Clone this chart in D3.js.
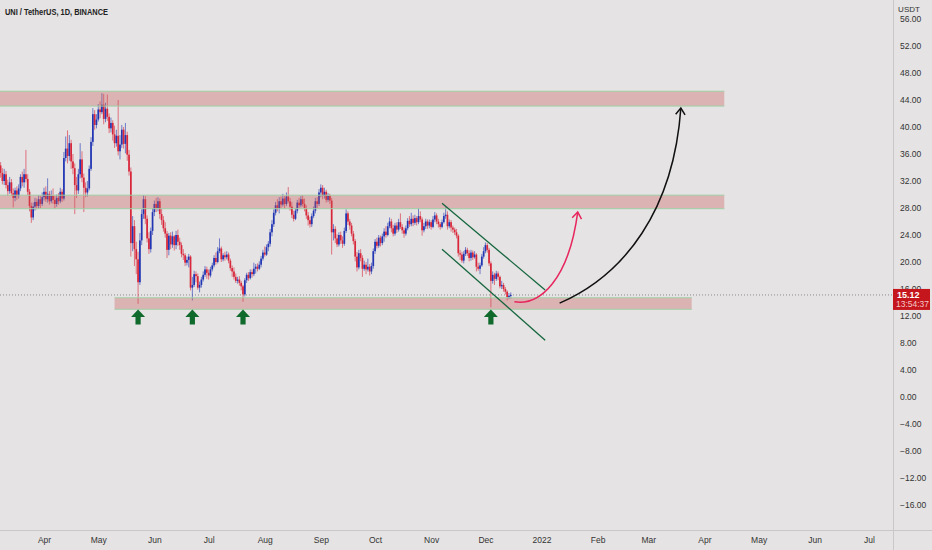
<!DOCTYPE html>
<html>
<head>
<meta charset="utf-8">
<script src="https://cdn.jsdelivr.net/npm/d3@7"></script>
<style>
  html, body { margin: 0; padding: 0; background: #e5e3e3; }
  svg { display: block; font-family: "Liberation Sans", Arial, sans-serif; }
</style>
</head>
<body>
<div id="chart"></div>
<script>
// UNI / USDT daily, 2021-03-07 .. 2021-12-15, one row per day: [open, high, low, close]
const firstDay = '2021-03-07';
const candles = [
  // March (from the 7th)
  [33.0,35.0,32.6,34.3],[34.3,34.8,32.5,33.2],[33.2,33.9,31.5,32.0],[32.0,33.8,31.4,33.0],[33.0,33.5,30.9,31.4],
  [31.4,32.2,29.8,30.5],[30.5,32.6,30.1,31.8],[31.8,32.3,29.8,30.2],[30.2,30.9,28.1,29.5],[29.5,31.0,29.0,30.6],
  [30.6,31.2,29.2,29.8],[29.8,31.5,29.4,30.9],[30.9,33.0,30.5,32.6],[32.6,33.4,31.2,31.8],[31.8,33.8,31.0,33.0],
  [33.0,36.6,31.8,32.3],[32.3,33.0,29.9,30.4],[30.4,30.8,27.5,28.3],[28.3,28.8,25.8,26.6],[26.6,28.8,26.2,28.2],
  [28.2,29.5,27.6,28.9],[28.9,29.4,27.8,28.3],[28.3,29.9,27.9,29.3],[29.3,29.8,28.0,28.6],[28.6,30.3,28.3,29.6],
  // April
  [29.6,31.0,29.1,30.4],[30.4,31.2,28.9,29.3],[29.3,32.4,28.8,30.1],[30.1,30.5,28.5,29.0],[29.0,30.6,28.7,29.8],
  [29.8,30.9,28.6,29.2],[29.2,29.8,27.9,28.6],[28.6,30.0,28.2,29.5],[29.5,30.2,28.5,29.0],[29.0,31.0,28.7,30.4],
  [30.4,30.8,28.9,29.4],[29.4,36.3,29.1,35.4],[35.4,38.6,34.9,36.8],[36.8,39.5,34.6,35.7],[35.7,38.8,35.0,37.6],
  [37.6,38.1,33.8,34.9],[34.9,36.0,33.0,33.9],[33.9,34.6,27.1,31.4],[31.4,32.6,29.5,30.6],[30.6,33.8,30.1,33.0],
  [33.0,37.6,32.4,35.2],[35.2,36.4,31.8,32.5],[32.5,33.1,27.4,31.0],[31.0,31.8,29.6,30.3],[30.3,32.0,29.7,30.9],
  [30.9,34.3,30.6,33.8],[33.8,38.5,33.5,37.8],[37.8,42.8,37.2,41.9],[41.9,42.5,39.6,40.3],[40.3,41.9,39.8,41.1],
  // May
  [41.1,43.4,40.8,42.6],[42.6,43.8,41.3,42.2],[42.2,45.0,41.9,43.3],[43.3,44.9,40.4,41.2],[41.2,43.6,40.7,42.7],
  [42.7,44.8,40.9,41.5],[41.5,42.0,39.1,39.8],[39.8,41.4,39.2,40.6],[40.6,41.0,38.0,38.9],[38.9,40.2,36.9,37.6],
  [37.6,39.6,37.1,38.7],[38.7,44.0,35.8,36.4],[36.4,38.8,35.2,37.4],[37.4,40.3,36.9,39.6],[39.6,40.0,36.8,37.5],
  [37.5,40.6,36.1,38.8],[38.8,39.3,35.0,35.9],[35.9,36.6,32.8,33.4],[33.4,34.0,20.8,22.8],[22.8,26.8,21.6,25.3],
  [25.3,26.2,19.4,21.9],[21.9,23.0,18.2,20.4],[20.4,21.5,13.8,17.0],[17.0,24.3,16.6,23.2],[23.2,27.8,22.5,27.1],
  [27.1,29.9,26.4,29.3],[29.3,29.8,25.6,26.4],[26.4,26.9,22.9,23.5],[23.5,24.4,21.2,21.9],[21.9,25.1,21.4,24.6],
  [24.6,28.0,24.0,27.4],
  // June
  [27.4,29.1,26.8,28.6],[28.6,29.5,27.4,28.0],[28.0,29.6,27.5,29.0],[29.0,29.4,26.4,27.1],[27.1,27.9,25.5,26.2],
  [26.2,26.8,24.5,25.0],[25.0,25.9,23.6,24.2],[24.2,24.6,20.6,21.8],[21.8,24.3,21.0,23.9],[23.9,24.4,21.9,22.6],
  [22.6,24.5,22.1,23.8],[23.8,24.0,21.7,22.5],[22.5,24.6,21.9,24.0],[24.0,24.8,22.4,23.0],[23.0,23.6,21.8,22.5],
  [22.5,22.9,20.7,21.2],[21.2,21.9,20.3,21.0],[21.0,21.3,19.4,19.9],[19.9,20.8,19.5,20.3],[20.3,21.2,19.2,20.8],
  [20.8,21.0,15.8,16.2],[16.2,17.8,14.3,16.6],[16.6,18.7,16.3,18.2],[18.2,18.6,17.0,17.9],[17.9,18.3,15.9,16.2],
  [16.2,17.1,15.5,16.6],[16.6,17.8,16.2,17.4],[17.4,18.6,17.1,18.1],[18.1,19.4,17.8,18.9],[18.9,19.3,17.5,18.4],
  // July
  [18.4,18.9,17.4,18.0],[18.0,19.3,17.7,18.9],[18.9,19.9,18.6,19.5],[19.5,21.0,19.2,20.6],[20.6,21.4,19.6,20.0],
  [20.0,22.2,19.8,21.6],[21.6,23.5,21.3,22.0],[22.0,22.3,20.0,20.4],[20.4,21.3,20.1,21.0],[21.0,21.5,20.2,20.7],
  [20.7,21.6,20.4,21.1],[21.1,21.4,19.8,20.2],[20.2,20.5,18.7,19.1],[19.1,19.5,17.8,18.6],[18.6,19.2,17.4,17.8],
  [17.8,18.3,16.9,17.2],[17.2,17.8,16.8,17.4],[17.4,17.9,16.5,16.9],[16.9,17.2,15.8,16.4],[16.4,16.6,14.1,15.2],
  [15.2,17.6,14.9,17.3],[17.3,18.4,16.9,18.1],[18.1,18.5,17.2,17.6],[17.6,18.9,17.4,18.5],[18.5,18.9,17.7,18.2],
  [18.2,19.9,17.9,19.0],[19.0,19.7,18.3,19.3],[19.3,19.8,18.6,19.0],[19.0,20.1,18.8,19.6],[19.6,20.9,19.2,20.5],
  [20.5,21.8,20.2,21.4],
  // August
  [21.4,22.3,20.8,21.1],[21.1,22.6,20.9,22.2],[22.2,23.1,21.6,22.7],[22.7,24.9,22.3,24.4],[24.4,26.2,23.8,25.6],
  [25.6,27.8,25.2,27.3],[27.3,28.9,26.9,28.4],[28.4,29.3,27.5,27.9],[27.9,29.6,27.2,29.0],[29.0,29.7,28.0,28.5],
  [28.5,30.1,28.2,29.4],[29.4,29.8,27.9,28.6],[28.6,30.3,28.3,29.7],[29.7,31.1,28.7,29.0],[29.0,29.5,27.6,28.2],
  [28.2,28.9,26.5,27.0],[27.0,27.6,26.0,26.4],[26.4,28.0,26.2,27.6],[27.6,29.2,27.2,28.8],[28.8,29.5,28.0,28.4],
  [28.4,29.8,28.1,29.3],[29.3,29.9,28.2,28.6],[28.6,29.4,27.5,28.0],[28.0,28.4,26.4,26.9],[26.9,27.4,25.4,26.2],
  [26.2,26.7,25.1,25.6],[25.6,27.2,25.2,26.8],[26.8,28.2,26.5,27.6],[27.6,29.5,27.2,29.0],[29.0,29.6,28.0,28.6],
  [28.6,30.8,28.3,30.3],
  // September
  [30.3,31.5,29.6,31.0],[31.0,31.4,29.3,29.8],[29.8,31.0,29.4,30.4],[30.4,30.7,28.8,29.2],[29.2,30.2,28.9,29.8],
  [29.8,30.1,28.6,29.1],[29.1,29.5,21.1,24.4],[24.4,25.6,23.2,24.9],[24.9,25.3,22.8,23.5],[23.5,24.1,22.2,22.6],
  [22.6,24.4,22.3,24.0],[24.0,24.5,22.7,23.2],[23.2,23.8,22.1,22.7],[22.7,25.1,22.4,24.6],[24.6,27.8,24.3,27.2],
  [27.2,27.5,25.5,26.0],[26.0,26.4,24.8,25.4],[25.4,25.8,23.8,24.2],[24.2,24.6,22.6,23.1],[23.1,23.4,20.1,20.8],
  [20.8,21.5,18.6,19.2],[19.2,21.8,18.9,21.3],[21.3,21.9,20.1,20.6],[20.6,21.0,17.8,19.0],[19.0,20.2,18.7,19.6],
  [19.6,20.0,18.2,18.9],[18.9,20.5,18.6,19.3],[19.3,19.7,18.0,18.6],[18.6,19.9,18.2,19.4],[19.4,22.0,19.0,21.6],
  // October
  [21.6,23.4,21.2,23.0],[23.0,23.6,22.0,22.4],[22.4,24.0,22.1,23.6],[23.6,23.9,22.3,22.8],[22.8,24.2,22.5,23.8],
  [23.8,25.0,23.0,24.5],[24.5,25.3,23.6,24.0],[24.0,25.8,23.8,25.3],[25.3,26.6,25.0,26.0],[26.0,26.4,24.4,25.0],
  [25.0,25.5,23.8,24.2],[24.2,25.8,23.9,25.4],[25.4,25.9,24.3,24.8],[24.8,26.4,24.5,25.9],[25.9,27.2,24.9,25.2],
  [25.2,25.6,24.2,24.7],[24.7,25.1,23.6,24.2],[24.2,25.4,23.9,25.0],[25.0,26.5,24.7,26.1],[26.1,26.8,25.2,25.6],
  [25.6,27.3,25.3,26.4],[26.4,26.9,25.3,25.8],[25.8,27.0,25.5,26.5],[26.5,26.8,25.4,25.9],[25.9,28.0,25.6,26.8],
  [26.8,27.5,25.9,26.3],[26.3,26.6,23.9,24.7],[24.7,25.8,24.4,25.3],[25.3,26.4,24.9,26.0],[26.0,26.3,24.9,25.4],
  [25.4,26.3,25.0,25.9],
  // November
  [25.9,26.2,24.8,25.2],[25.2,26.8,25.0,26.3],[26.3,27.4,25.9,26.9],[26.9,27.2,25.6,26.0],[26.0,26.4,25.1,25.6],
  [25.6,25.9,24.8,25.2],[25.2,26.3,25.0,25.9],[25.9,27.3,25.7,26.8],[26.8,28.1,26.4,27.0],[27.0,27.5,24.8,25.3],
  [25.3,26.3,25.0,25.9],[25.9,26.2,24.5,25.1],[25.1,25.4,24.3,24.8],[24.8,25.1,24.0,24.4],[24.4,24.9,23.5,23.9],
  [23.9,24.1,20.8,21.3],[21.3,21.8,20.3,21.1],[21.1,21.5,19.9,20.2],[20.2,21.6,19.8,21.2],[21.2,22.2,20.9,21.8],
  [21.8,22.1,20.9,21.3],[21.3,21.7,20.1,20.6],[20.6,21.8,20.2,21.4],[21.4,21.7,20.3,20.7],[20.7,21.6,20.5,21.1],
  [21.1,21.3,18.6,19.3],[19.3,19.9,18.7,19.0],[19.0,19.9,18.2,19.5],[19.5,21.2,19.3,20.8],[20.8,22.2,20.5,21.6],
  // December (to the 15th)
  [21.6,22.9,21.3,22.5],[22.5,22.8,21.4,21.8],[21.8,22.1,19.4,19.8],[19.8,20.1,13.3,17.2],[17.2,18.6,16.8,18.1],
  [18.1,18.4,16.6,17.5],[17.5,18.7,17.2,18.3],[18.3,18.6,17.3,17.8],[17.8,18.0,16.1,16.4],[16.4,17.2,16.0,16.6],
  [16.6,16.9,15.6,16.0],[16.0,16.3,15.2,15.6],[15.6,15.8,14.3,14.8],[14.8,15.4,14.5,15.0],[15.0,15.5,14.6,15.12]
];

const priceTicks = [56, 52, 48, 44, 40, 36, 32, 28, 24, 20, 16, 12, 8, 4, 0, -4, -8, -12, -16];
const monthTicks = ['2021-04-01', '2021-05-01', '2021-06-01', '2021-07-01', '2021-08-01', '2021-09-01',
  '2021-10-01', '2021-11-01', '2021-12-01', '2022-01-01', '2022-02-01', '2022-03-01', '2022-04-01',
  '2022-05-01', '2022-06-01', '2022-07-01'];
const monthLabels = ['Apr', 'May', 'Jun', 'Jul', 'Aug', 'Sep', 'Oct', 'Nov', 'Dec', '2022', 'Feb', 'Mar', 'Apr', 'May', 'Jun', 'Jul'];

// supply / demand zones
const zoneFrom = ['2021-01-01', '2021-01-01', '2021-05-10'];
const zoneTo   = ['2022-04-12', '2022-04-12', '2022-03-25'];
const zoneLow  = [43.1, 27.9, 13.0];
const zoneHigh = [45.3, 29.9, 14.7];

// descending channel: [date, price] start / end
const channelUpper = [['2021-11-07', 28.7], ['2022-01-03', 15.85]];
const channelLower = [['2021-11-07', 21.9], ['2022-01-03', 8.4]];

// projected paths (cubic: start, ctrl1, ctrl2, end)
const pathShort = [['2021-12-17', 14.1], ['2021-12-31', 13.5], ['2022-01-16', 17.3], ['2022-01-21', 27.4]];
const pathLong  = [['2022-01-11', 13.9], ['2022-02-16', 18.1], ['2022-03-15', 27.7], ['2022-03-19', 42.8]];

// bounces off the support
const supportHits = ['2021-05-23', '2021-06-22', '2021-07-20', '2021-12-04'];
const arrowTip = 13.1;

const lastPrice = 15.12;
const countdown = '13:54:37';

// ---------------------------------------------------------------
const W = 932, H = 550;
const plotR = 893, plotB = 530;
const UP = '#2236b4', DOWN = '#d8263a';
const FONT = '"Liberation Sans", Arial, sans-serif';
const parse = d3.timeParse('%Y-%m-%d');

const x = d3.scaleTime()
  .domain([parse('2021-04-01'), parse('2022-07-01')])
  .range([44, 869]);
const y = d3.scaleLinear().domain([-16, 56]).range([505, 19]);

const t0 = parse(firstDay);
const bars = candles.map((c, i) => ({ date: d3.timeDay.offset(t0, i), o: c[0], h: c[1], l: c[2], c: c[3] }));

const svg = d3.select('#chart').append('svg')
  .attr('width', W).attr('height', H);

svg.append('rect').attr('width', W).attr('height', H).attr('fill', '#e5e3e3');

svg.append('defs').append('clipPath').attr('id', 'plot-clip')
  .append('rect').attr('x', 0).attr('y', 0).attr('width', plotR).attr('height', plotB);

const plot = svg.append('g').attr('clip-path', 'url(#plot-clip)');

// last price dotted line
plot.append('line')
  .attr('x1', 0).attr('x2', plotR)
  .attr('y1', y(lastPrice)).attr('y2', y(lastPrice))
  .attr('stroke', '#8c8a8a').attr('stroke-width', 1)
  .attr('stroke-dasharray', '1,2');

// candles
const cg = plot.append('g');
cg.selectAll('line')
  .data(bars)
  .join('line')
  .attr('x1', d => x(d.date)).attr('x2', d => x(d.date))
  .attr('y1', d => y(d.h)).attr('y2', d => y(d.l))
  .attr('stroke', d => d.c >= d.o ? UP : DOWN)
  .attr('stroke-opacity', 0.6)
  .attr('stroke-width', 1);

cg.selectAll('rect')
  .data(bars)
  .join('rect')
  .attr('x', d => x(d.date) - 0.85)
  .attr('width', 1.7)
  .attr('y', d => y(Math.max(d.o, d.c)))
  .attr('height', d => Math.max(1, Math.abs(y(d.o) - y(d.c))))
  .attr('fill', d => d.c >= d.o ? UP : DOWN);

// zones
const zones = zoneFrom.map((f, i) => ({ from: parse(f), to: parse(zoneTo[i]), lo: zoneLow[i], hi: zoneHigh[i] }));
const zg = plot.append('g');
zg.selectAll('rect')
  .data(zones)
  .join('rect')
  .attr('x', d => x(d.from))
  .attr('width', d => x(d.to) - x(d.from))
  .attr('y', d => y(d.hi))
  .attr('height', d => y(d.lo) - y(d.hi))
  .attr('fill', 'rgba(200,90,90,0.35)');
zg.selectAll('line.edge')
  .data(zones.flatMap(d => [{ z: d, v: d.hi }, { z: d, v: d.lo }]))
  .join('line')
  .attr('class', 'edge')
  .attr('x1', d => x(d.z.from)).attr('x2', d => x(d.z.to))
  .attr('y1', d => y(d.v)).attr('y2', d => y(d.v))
  .attr('stroke', '#9fcfa6').attr('stroke-width', 1);

// channel
const pt = p => [x(parse(p[0])), y(p[1])];
[channelUpper, channelLower].forEach(ch => {
  const a = pt(ch[0]), b = pt(ch[1]);
  plot.append('line')
    .attr('x1', a[0]).attr('y1', a[1]).attr('x2', b[0]).attr('y2', b[1])
    .attr('stroke', '#16663f').attr('stroke-width', 1.3);
});

// curved projection arrows
function curveArrow(pts, color) {
  const p = pts.map(pt);
  const path = d3.path();
  path.moveTo(p[0][0], p[0][1]);
  path.bezierCurveTo(p[1][0], p[1][1], p[2][0], p[2][1], p[3][0], p[3][1]);
  plot.append('path').attr('d', path.toString())
    .attr('fill', 'none').attr('stroke', color).attr('stroke-width', 1.5);
  // open arrow head along the end tangent
  const ang = Math.atan2(p[3][1] - p[2][1], p[3][0] - p[2][0]);
  const len = 8, spread = Math.PI / 5;
  const head = d3.path();
  head.moveTo(p[3][0] - len * Math.cos(ang - spread), p[3][1] - len * Math.sin(ang - spread));
  head.lineTo(p[3][0], p[3][1]);
  head.lineTo(p[3][0] - len * Math.cos(ang + spread), p[3][1] - len * Math.sin(ang + spread));
  plot.append('path').attr('d', head.toString())
    .attr('fill', 'none').attr('stroke', color).attr('stroke-width', 1.5)
    .attr('stroke-linejoin', 'miter');
}
curveArrow(pathShort, '#e8265e');
curveArrow(pathLong, '#111111');

// green up arrows under the support
plot.append('g').selectAll('path')
  .data(supportHits)
  .join('path')
  .attr('transform', d => `translate(${x(parse(d))},${y(arrowTip) + 1})`)
  .attr('d', 'M0,0 L7,7.5 L2.6,7.5 L2.6,15 L-2.6,15 L-2.6,7.5 L-7,7.5 Z')
  .attr('fill', '#0f6a2c');

// price scale
svg.append('line')
  .attr('x1', plotR + 0.5).attr('x2', plotR + 0.5).attr('y1', 0).attr('y2', H)
  .attr('stroke', '#c9c7c7');
svg.append('line')
  .attr('x1', 0).attr('x2', W).attr('y1', plotB + 0.5).attr('y2', plotB + 0.5)
  .attr('stroke', '#c9c7c7');

const yAxis = svg.append('g')
  .attr('transform', `translate(${plotR},0)`)
  .call(d3.axisRight(y).tickValues(priceTicks).tickSize(0).tickPadding(7).tickFormat(d3.format('.2f')));
yAxis.select('.domain').remove();
yAxis.selectAll('text')
  .attr('font-family', FONT)
  .attr('font-size', 8.5).attr('fill', '#333');

const xAxis = svg.append('g')
  .attr('transform', `translate(0,${plotB})`)
  .call(d3.axisBottom(x).tickValues(monthTicks.map(parse)).tickSize(0).tickPadding(7)
    .tickFormat((d, i) => monthLabels[i]));
xAxis.select('.domain').remove();
xAxis.selectAll('text')
  .attr('font-family', FONT)
  .attr('font-size', 8.5).attr('fill', '#333');

svg.append('text')
  .attr('x', 909).attr('y', 12)
  .attr('text-anchor', 'middle')
  .attr('font-size', 8).attr('fill', '#333')
  .text('USDT');

// last price tag (covers the lower half of the 16.00 label, as on the platform)
const tag = svg.append('g').attr('transform', `translate(${plotR},${y(lastPrice)})`);
tag.append('rect')
  .attr('x', 0).attr('y', -6).attr('width', 37).attr('height', 21)
  .attr('fill', '#c4161c');
tag.append('text')
  .attr('x', 4).attr('y', 3.5)
  .attr('font-size', 9).attr('font-weight', 'bold').attr('fill', '#fff')
  .text(d3.format('.2f')(lastPrice));
tag.append('text')
  .attr('x', 3).attr('y', 12.5)
  .attr('font-size', 8.5).attr('fill', '#f3c9c9')
  .attr('textLength', 33).attr('lengthAdjust', 'spacingAndGlyphs')
  .text(countdown);

// title
svg.append('text')
  .attr('x', 5).attr('y', 14.5)
  .attr('font-size', 9).attr('font-weight', 'bold').attr('fill', '#222')
  .attr('textLength', 103).attr('lengthAdjust', 'spacingAndGlyphs')
  .text('UNI / TetherUS, 1D, BINANCE');
</script>
</body>
</html>
